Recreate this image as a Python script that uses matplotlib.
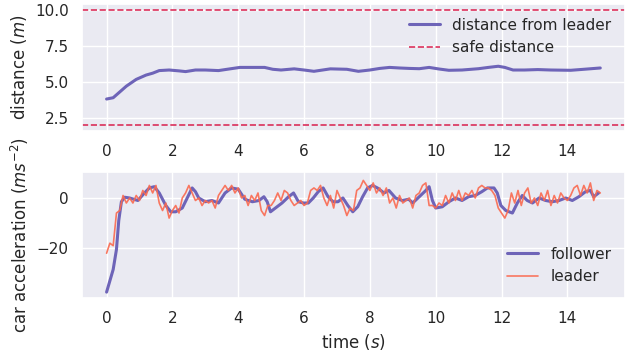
import matplotlib
matplotlib.use("Agg")
import matplotlib.pyplot as plt
import seaborn as sns
import numpy as np

sns.set_theme(style="darkgrid")

# distance from leader (time s, distance m)
dist_t = [0.0, 0.2, 0.35, 0.6, 0.9, 1.2, 1.4, 1.6, 1.9, 2.2, 2.4, 2.7, 3.0, 3.4,
          3.75, 4.05, 4.35, 4.8, 5.05, 5.3, 5.7, 6.0, 6.3, 6.8, 7.3, 7.65, 8.0,
          8.3, 8.6, 8.9, 9.2, 9.5, 9.8, 10.1, 10.4, 10.8, 11.3, 11.6, 11.9, 12.1,
          12.35, 12.7, 13.1, 13.5, 14.1, 14.5, 15.0]
dist_v = [3.81, 3.9, 4.2, 4.7, 5.17, 5.47, 5.6, 5.78, 5.82, 5.76, 5.71, 5.82, 5.82, 5.78,
          5.9, 6.0, 6.0, 6.0, 5.87, 5.82, 5.9, 5.82, 5.73, 5.9, 5.87, 5.73, 5.82,
          5.93, 6.0, 5.96, 5.93, 5.91, 6.0, 5.89, 5.8, 5.82, 5.91, 6.0, 6.08, 6.0,
          5.82, 5.82, 5.85, 5.82, 5.8, 5.87, 5.96]
safe_low = 2.0
safe_high = 10.0

# follower acceleration
fol_t = [0.0, 0.1, 0.2, 0.3, 0.37, 0.45, 0.55, 0.7, 0.95, 1.15, 1.3, 1.45, 1.6, 1.8,
         1.95, 2.1, 2.3, 2.45, 2.6, 2.7, 2.8, 3.0, 3.2, 3.4, 3.6, 3.8, 4.0, 4.2,
         4.43, 4.63, 4.78, 4.88, 4.98, 5.13, 5.33, 5.53, 5.68, 5.83, 5.98, 6.13,
         6.28, 6.43, 6.58, 6.73, 6.88, 7.03, 7.18, 7.33, 7.48, 7.63, 7.78, 7.93,
         8.08, 8.23, 8.43, 8.58, 8.78, 8.98, 9.18, 9.3, 9.5, 9.7, 9.8, 9.9, 10.0,
         10.2, 10.4, 10.6, 10.8, 11.0, 11.2, 11.4, 11.57, 11.77, 11.87, 11.98,
         12.13, 12.33, 12.48, 12.63, 12.78, 12.94, 13.14, 13.34, 13.54, 13.75,
         13.95, 14.15, 14.35, 14.55, 14.7, 14.8, 14.95]
fol_v = [-37.5, -33, -28.5, -20.5, -9, -1.5, 0.3, 0, -1, 2, 4, 4.5, 2, -3,
         -5.5, -5.5, -4, 0, 4, 2.5, 0, -1.5, -1, -2, 2, 4, 3.5, -0.5,
         -1.5, -1, 0.5, -1.5, -5.5, -4, -2, 0.5, 2, -1.5, -2, -2,
         0, 2.5, 4, 0.5, -1.5, -1.5, 0, -3, -5.5, -3.5, 0.5, 4,
         5, 4, 2, 3, 0, -1, -0.5, -2, 0.5, 3, 4.5, -1, -4,
         -3.5, -1.5, 0, -1, 0.5, 1, 2.5, 4, 4, 2, -3,
         -5, -6, -2, 1, -1, -2, 0, -1, -1.5, -1,
         0, -1, 0.5, 2.5, 3, 0.5, 2]

# leader acceleration, sampled every 0.1 s from 0 to 15 s
lead_v = [-22, -18, -19, -6, -5, 1, -2, 0, -2, 1,
          -1, 3, 1, 5, 2, 5, -2, -5, -2, -8,
          -5, -3, -6, 0, 2, 5, 2, -1, 0, -3,
          -1, -2, -1, -4, 1, 3, 5, 3, 5, 2,
          4, 0, 1, -3, 1, -1, 2, -5, -7, -3,
          -3, -1, 2, -1, 3, 2, -1, -3, -2, -1,
          -3, -2, 3, 4, 3, 5, 0, -3, 1, -4,
          3, 0, -3, -7, -4, -5, 3, 4, 7, 5,
          3, 6, 2, 4, 1, 4, -2, 0, -4, 1,
          -2, -1, 0, -4, 1, 2, 5, 6, -3, -3,
          -4, -2, -3, 1, -2, 2, -1, 3, -1, 2,
          1, 3, 0, 4, 5, 4, 4, 3, 1, -4,
          -6, -8, -5, 2, -2, 3, -3, 2, 4, -2,
          0, -3, 2, -1, 3, -3, 1, -2, 2, 0,
          -1, 1, 4, 5, 1, 5, 2, 6, -1, 3,
          2]
lead_t = [i * 0.1 for i in range(len(lead_v))]

fig = plt.figure(figsize=(6.3, 3.52), dpi=100)
ax1 = fig.add_axes([0.130, 0.628, 0.862, 0.361])
ax2 = fig.add_axes([0.130, 0.153, 0.862, 0.358])

c_main = "#675DB5"
ax1.plot(dist_t, dist_v, color=c_main, lw=2.2, alpha=0.95, label="distance from leader")
ax1.axhline(safe_high, color="#D81B4A", ls="--", lw=1.2, alpha=0.9, label="safe distance")
ax1.axhline(safe_low, color="#D81B4A", ls="--", lw=1.2, alpha=0.9)
ax1.set_xlim(-0.75, 15.75)
ax1.set_ylim(1.6, 10.4)
ax1.set_yticks([2.5, 5.0, 7.5, 10.0])
ax1.set_xticks([0, 2, 4, 6, 8, 10, 12, 14])
ax1.set_ylabel("distance ($m$)", fontsize=12)
ax1.tick_params(labelsize=11)
ax1.legend(loc="upper right", fontsize=11, frameon=False)

ax2.plot(fol_t, fol_v, color=c_main, lw=2.2, alpha=0.95, label="follower")
ax2.plot(lead_t, lead_v, color="#FA6A50", lw=1.2, alpha=0.9, label="leader")
ax2.set_xlim(-0.75, 15.75)
ax2.set_ylim(-39.9, 10.3)
ax2.set_yticks([-20, 0])
ax2.set_xticks([0, 2, 4, 6, 8, 10, 12, 14])
ax2.set_xlabel("time ($s$)", fontsize=12)
ax2.set_ylabel("car acceleration ($ms^{-2}$)", fontsize=12)
ax2.tick_params(labelsize=11)
ax2.legend(loc="lower right", fontsize=11, frameon=False)

fig.savefig("out.png", dpi=100)
